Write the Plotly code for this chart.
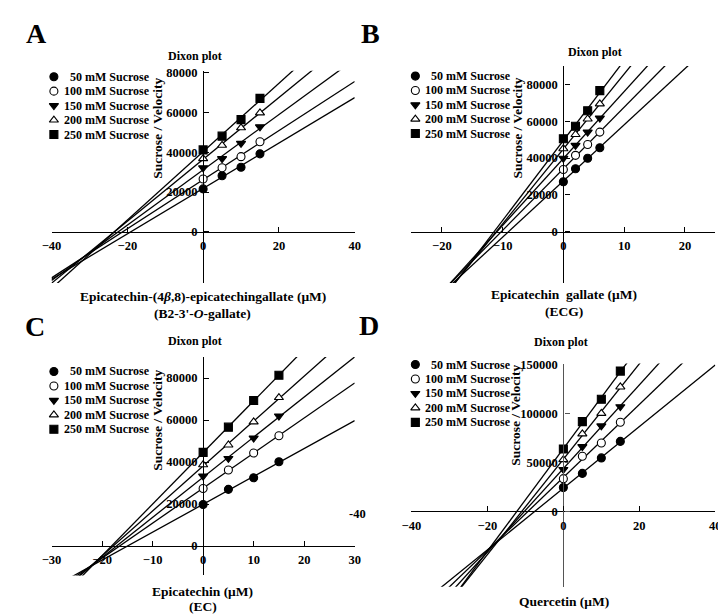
import numpy as np
import plotly.graph_objects as go

W, H = 726, 614
FONT = "Liberation Serif, Times New Roman, serif"

# ---------------- data ----------------
series_names = ["50 mM Sucrose", "100 mM Sucrose", "150 mM Sucrose",
                "200 mM Sucrose", "250 mM Sucrose"]

conc_A = [0, 5, 10, 15]
vals_A = [
    [21600, 28200, 32500, 39200],
    [26600, 32200, 37800, 45300],
    [32200, 36800, 44500, 52800],
    [36800, 43500, 52300, 59800],
    [41200, 48100, 56400, 67100],
]

conc_B = [0, 2, 4, 6]
vals_B = [
    [27200, 34200, 39900, 45600],
    [33800, 41500, 47400, 54100],
    [39900, 46900, 54100, 61700],
    [45100, 52800, 61200, 69400],
    [50500, 57300, 65700, 76600],
]

conc_C = [0, 5, 10, 15]
vals_C = [
    [19800, 27000, 32500, 40100],
    [27400, 36200, 44300, 52500],
    [33300, 41700, 51400, 61900],
    [38700, 48100, 59100, 70700],
    [44600, 56600, 69300, 81300],
]

conc_D = [0, 5, 10, 15]
vals_D = [
    [24300, 38800, 54600, 71500],
    [33400, 56300, 69800, 91000],
    [42800, 66100, 87300, 106900],
    [52900, 79200, 100100, 127100],
    [63700, 91700, 114600, 143300],
]

x_titles = [
    ["Epicatechin-(4<i>β</i>,8)-epicatechingallate (μM)", "(B2-3'-<i>O</i>-gallate)"],
    ["Epicatechin  gallate (μM)", "(ECG)"],
    ["Epicatechin (μM)", "(EC)"],
    ["Quercetin (μM)"],
]
panel_letters = ["A", "B", "C", "D"]
y_title = "Sucrose / Velocity"
plot_title = "Dixon plot"

xticks = [[-40, -20, 0, 20, 40], [-20, -10, 0, 10, 20],
          [-30, -20, -10, 0, 10, 20, 30], [-40, -20, 0, 20, 40]]
yticks = [[0, 20000, 40000, 60000, 80000], [0, 20000, 40000, 60000, 80000],
          [0, 20000, 40000, 60000, 80000], [0, 50000, 100000, 150000]]

# ---------------- layout geometry (pixels) ----------------
panels = [
    dict(conc=conc_A, vals=vals_A, xr=[-40, 40], yr=[-25700, 81000],
         px=(34.3, 344.3, 57.3, 271.6), letter=(18.5, 20),
         title=(181, 42), ytitle=(143, 115), xtitle=(189, [285, 302]),
         leg=(36.7, 63.3, 14.6), ycolor="black"),
    dict(conc=conc_B, vals=vals_B, xr=[-25, 25], yr=[-27700, 90000],
         px=(402.3, 713, 52.4, 271.6), letter=(360, 20),
         title=(590, 38), ytitle=(511, 115), xtitle=(558, [283, 300]),
         leg=(406.3, 62.7, 14.5), ycolor="black"),
    dict(conc=conc_C, vals=vals_C, xr=[-30, 30], yr=[-14000, 90000],
         px=(34.3, 344.3, 346.4, 567.0), letter=(17, 316),
         title=(181, 330), ytitle=(143, 410), xtitle=(189, [583, 598]),
         leg=(36.7, 361, 14.6), ycolor="black"),
    dict(conc=conc_D, vals=vals_D, xr=[-40, 40], yr=[-77000, 151000],
         px=(402.3, 713, 353.0, 578.4), letter=(359, 315),
         title=(555, 331), ytitle=(508, 405), xtitle=(558, [593]),
         leg=(406.3, 354, 14.6), ycolor="#555555"),
]

symbols = ["circle", "circle", "triangle-down", "triangle-up", "square"]
fills = ["black", "white", "black", "white", "black"]


def fx(p):
    return p / W


def fy(p):
    return 1 - p / H


def note(text, x, y, size, xanchor="center", yanchor="middle", angle=0):
    return dict(text=text, x=fx(x), y=fy(y), xref="paper", yref="paper",
                showarrow=False, xanchor=xanchor, yanchor=yanchor,
                textangle=angle, borderpad=0,
                font=dict(family=FONT, size=size, color="black",
                          weight="bold"))


fig = go.Figure()
annotations = []

for i, pn in enumerate(panels):
    n = i + 1
    xa = "x" if n == 1 else f"x{n}"
    ya = "y" if n == 1 else f"y{n}"
    x0p, x1p, y0p, y1p = pn["px"]
    xr, yr = pn["xr"], pn["yr"]
    xdom = [fx(x0p), fx(x1p)]
    ydom = [fy(y1p), fy(y0p)]
    # paper position of data zero for the crossing axes
    pos_x0 = xdom[0] + (0 - xr[0]) / (xr[1] - xr[0]) * (xdom[1] - xdom[0])
    pos_y0 = ydom[0] + (0 - yr[0]) / (yr[1] - yr[0]) * (ydom[1] - ydom[0])

    conc = np.array(pn["conc"], dtype=float)
    # regression lines
    for s, vals in enumerate(pn["vals"]):
        m, b = np.polyfit(conc, np.array(vals, dtype=float), 1)
        xs = np.array(xr, dtype=float)
        fig.add_trace(go.Scatter(
            x=xs, y=m * xs + b, mode="lines", xaxis=xa, yaxis=ya,
            line=dict(color="black", width=1.3), showlegend=False,
            hoverinfo="skip"))
    # data points
    for s, vals in enumerate(pn["vals"]):
        fig.add_trace(go.Scatter(
            x=pn["conc"], y=vals, mode="markers", xaxis=xa, yaxis=ya,
            name=series_names[s], showlegend=False,
            marker=dict(symbol=symbols[s], size=8, color=fills[s],
                        line=dict(color="black", width=1.1))))

    axis_common = dict(showline=True, linewidth=1.3,
                       ticks="inside", ticklen=5, tickwidth=1.3,
                       showgrid=False, zeroline=False,
                       tickformat="d",
                       tickfont=dict(family=FONT, size=12.5, color="black",
                                     weight="bold"),
                       anchor="free")
    fig.layout[f"xaxis{'' if n == 1 else n}"] = dict(
        domain=xdom, range=xr, position=pos_y0, tickvals=xticks[i],
        linecolor="black", tickcolor="black",
        ticklabelstandoff=2, **axis_common)
    fig.layout[f"yaxis{'' if n == 1 else n}"] = dict(
        domain=ydom, range=yr, position=pos_x0, tickvals=yticks[i],
        linecolor=pn["ycolor"], tickcolor=pn["ycolor"],
        ticklabelstandoff=3, **axis_common)

    lx, ly = pn["letter"]
    annotations.append(note(panel_letters[i], lx, ly, 28))
    tx, ty = pn["title"]
    annotations.append(note(plot_title, tx, ty, 12))
    yx, yy = pn["ytitle"]
    annotations.append(note(y_title, yx, yy, 13.5, angle=-90))
    xx, xys = pn["xtitle"]
    for line_text, line_y in zip(x_titles[i], xys):
        annotations.append(note(line_text, xx, line_y, 13.5))

    # legend: markers on a hidden pixel-space overlay axis, text as annotations
    mx, my0, dy = pn["leg"]
    for s in range(5):
        ry = my0 + s * dy
        fig.add_trace(go.Scatter(
            x=[mx], y=[ry], mode="markers", xaxis="x5", yaxis="y5",
            showlegend=False, hoverinfo="skip",
            marker=dict(symbol=symbols[s], size=8, color=fills[s],
                        line=dict(color="black", width=1.1))))
        label = series_names[s]
        if label.startswith("50 "):
            label = "\u2007" + label
        annotations.append(note(label, mx + 9, ry, 12, xanchor="left"))

# stray label present in the original figure
annotations.append(note("-40", 347, 505, 12.5))

fig.update_layout(
    xaxis5=dict(domain=[0, 1], range=[0, W], visible=False, anchor="y5",
                fixedrange=True),
    yaxis5=dict(domain=[0, 1], range=[H, 0], visible=False, anchor="x5",
                fixedrange=True),
    width=W, height=H, margin=dict(l=0, r=0, t=0, b=0),
    paper_bgcolor="white", plot_bgcolor="rgba(0,0,0,0)",
    annotations=annotations, showlegend=False,
    font=dict(family=FONT, color="black"),
)

fig.write_html("out.html")
